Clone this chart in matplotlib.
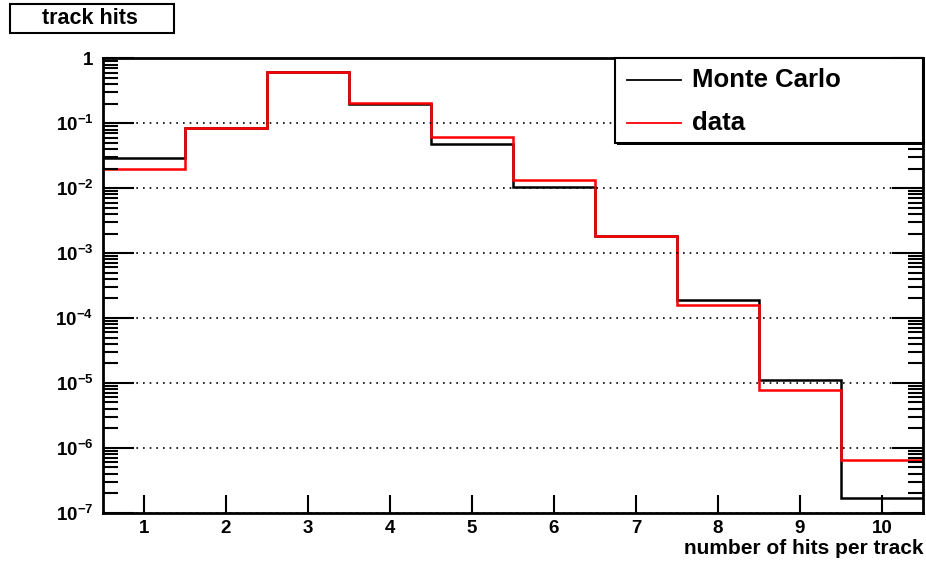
import numpy as np
import matplotlib
matplotlib.use("Agg")
import matplotlib.pyplot as plt
from matplotlib.patches import Rectangle
from matplotlib.lines import Line2D
from matplotlib.ticker import LogLocator, FixedLocator, NullFormatter

plt.rcParams['font.family'] = ['Liberation Sans', 'DejaVu Sans']
plt.rcParams['font.weight'] = 'bold'
plt.rcParams['mathtext.fontset'] = 'custom'
plt.rcParams['mathtext.rm'] = 'Liberation Sans:bold'
plt.rcParams['mathtext.bf'] = 'Liberation Sans:bold'
plt.rcParams['mathtext.it'] = 'Liberation Sans:bold'
plt.rcParams['mathtext.default'] = 'bf'

# hits-per-track histograms, normalised to unit area
bin_edges = np.arange(0.5, 11.0, 1.0)
monte_carlo = [0.0294, 0.0853, 0.622, 0.198, 0.0473, 0.0105, 1.83e-3, 1.89e-4, 1.10e-5, 1.7e-7]
data = [0.0195, 0.0853, 0.622, 0.207, 0.062, 0.0132, 1.83e-3, 1.56e-4, 7.65e-6, 6.46e-7]
x_ticks = list(range(1, 11))

fig = plt.figure(figsize=(9.26, 5.63), dpi=100)
ax = fig.add_axes([0.1112, 0.0893, 0.8856, 0.8071])

ax.stairs(monte_carlo, bin_edges, baseline=None, color='black', lw=1.8)
ax.stairs(data, bin_edges, baseline=None, color='#ff0000', lw=1.8)

ax.set_yscale('log')
ax.set_xlim(0.5, 10.5)
ax.set_ylim(1e-7, 1)

# decade labels in ROOT style
ax.yaxis.set_major_locator(FixedLocator([10.0 ** k for k in range(-7, 1)]))
ax.set_yticklabels(['$10^{%d}$' % k for k in range(-7, 0)] + ['1'])
ax.yaxis.set_minor_locator(LogLocator(base=10, subs=np.arange(2, 10)))
ax.yaxis.set_minor_formatter(NullFormatter())
ax.set_xticks(x_ticks)
ax.set_xticklabels([str(t) for t in x_ticks])

ax.tick_params(axis='y', which='major', direction='in', length=22, width=1.5,
               left=True, right=True, labelsize=13.5, pad=7)
ax.tick_params(axis='y', which='minor', direction='in', length=11, width=1.5,
               left=True, right=True)
ax.tick_params(axis='x', which='major', direction='in', length=13, width=1.5,
               top=False, labelsize=13.5, pad=5)
ax.tick_params(axis='x', which='minor', bottom=False, top=False)

ax.grid(axis='y', which='major', linestyle=(0, (1, 3)), color='black', lw=1.2)
for s in ax.spines.values():
    s.set_linewidth(2)

ax.set_xlabel('number of hits per track', fontsize=15, fontweight='bold')
ax.xaxis.set_label_coords(1.0, -0.078)
ax.xaxis.label.set_horizontalalignment('right')
ax.xaxis.label.set_verticalalignment('center')

# legend box with a thin drop shadow
fig.patches.append(Rectangle((617 / 926, 1 - 145 / 563), 308 / 926, 85 / 563,
                             transform=fig.transFigure, facecolor='black',
                             edgecolor='none', zorder=4))
fig.patches.append(Rectangle((615 / 926, 1 - 143 / 563), 308 / 926, 85 / 563,
                             transform=fig.transFigure, facecolor='white',
                             edgecolor='black', lw=1.5, zorder=5))
for y_px, col, lab in [(80, 'black', 'Monte Carlo'), (123, '#ff0000', 'data')]:
    yf = 1 - y_px / 563
    fig.lines.append(Line2D([627 / 926, 681 / 926], [yf, yf], color=col, lw=1.3,
                            transform=fig.transFigure, zorder=6))
    fig.text(692 / 926, yf, lab, fontsize=18.5, fontweight='bold',
             va='center', ha='left', zorder=7)

# title box
fig.patches.append(Rectangle((10 / 926, 1 - 33 / 563), 164 / 926, 29 / 563,
                             transform=fig.transFigure, facecolor='white',
                             edgecolor='black', lw=1.5))
fig.text(90 / 926, 1 - 19 / 563, 'track hits', fontsize=15.5, fontweight='bold',
         ha='center', va='center')

fig.savefig('out.png', dpi=100)
